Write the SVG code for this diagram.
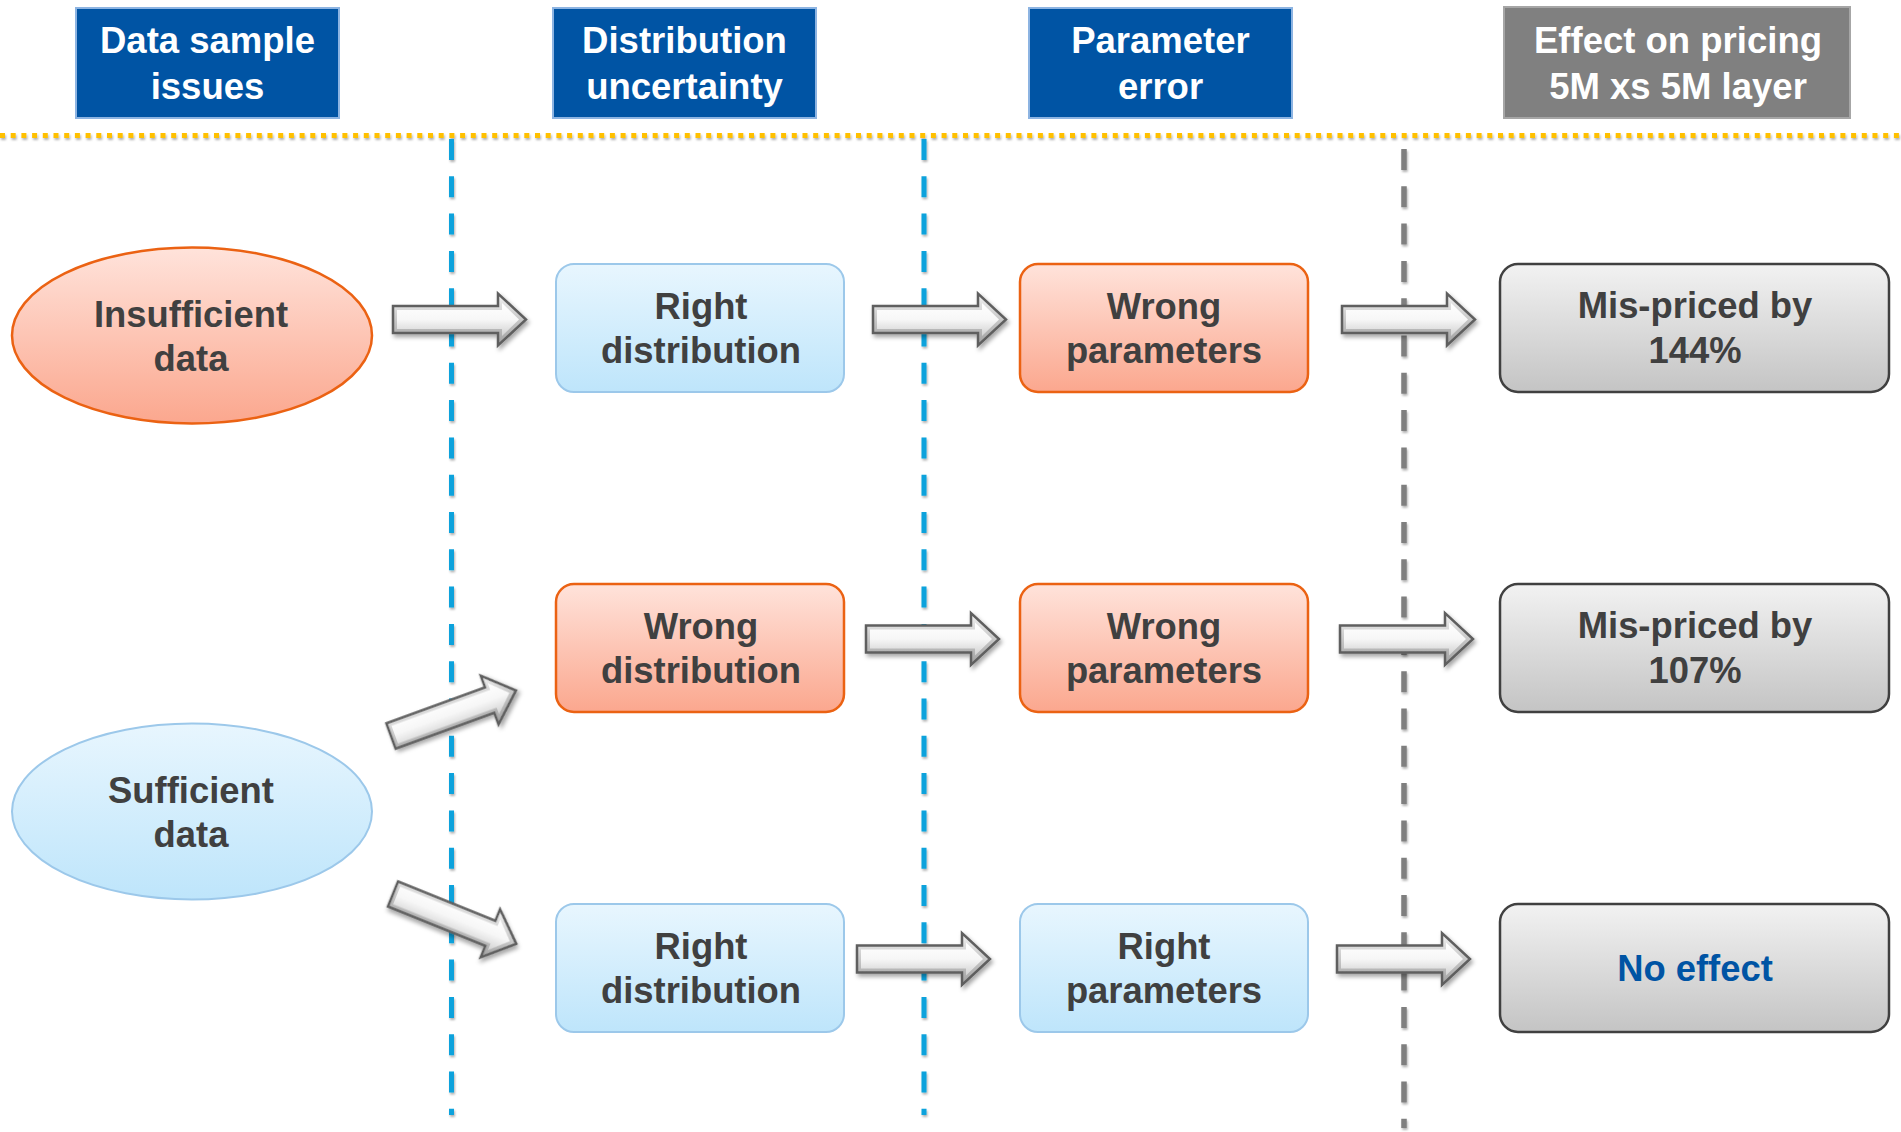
<svg xmlns="http://www.w3.org/2000/svg" width="1901" height="1132" viewBox="0 0 1901 1132">
<defs>
  <linearGradient id="gOrange" x1="0" y1="0" x2="0" y2="1">
    <stop offset="0" stop-color="#FFE3DB"/>
    <stop offset="1" stop-color="#FBA78E"/>
  </linearGradient>
  <linearGradient id="gBlue" x1="0" y1="0" x2="0" y2="1">
    <stop offset="0" stop-color="#E8F6FE"/>
    <stop offset="1" stop-color="#BEE5FB"/>
  </linearGradient>
  <linearGradient id="gGray" x1="0" y1="0" x2="0" y2="1">
    <stop offset="0" stop-color="#F2F2F2"/>
    <stop offset="1" stop-color="#C4C4C4"/>
  </linearGradient>
  <linearGradient id="gArrowEdge" x1="0" y1="0" x2="0" y2="1">
    <stop offset="0" stop-color="#F2F2F2"/>
    <stop offset="1" stop-color="#9E9E9E"/>
  </linearGradient>
  <linearGradient id="gArrow" x1="0" y1="0" x2="0" y2="1">
    <stop offset="0" stop-color="#FFFFFF"/>
    <stop offset="0.5" stop-color="#F7F7F7"/>
    <stop offset="1" stop-color="#D0D0D0"/>
  </linearGradient>
  <filter id="shadow" x="-15%" y="-40%" width="140%" height="190%">
    <feDropShadow dx="2" dy="3" stdDeviation="2.2" flood-color="#000" flood-opacity="0.35"/>
  </filter>
  <filter id="lshadow" filterUnits="userSpaceOnUse" x="0" y="0" width="1901" height="1132">
    <feDropShadow dx="1" dy="2" stdDeviation="1.3" flood-color="#000" flood-opacity="0.3"/>
  </filter>
  <g id="arrow">
    <path class="arrOuter" d="M0,-13.5 L105,-13.5 L105,-26 L133,0 L105,26 L105,13.5 L0,13.5 Z"/>
    <path class="arrInner" d="M4,-9.5 L109,-9.5 L109,-16.5 L126,0 L109,16.5 L109,9.5 L4,9.5 Z"/>
  </g>
</defs>
<style>
  text { font-family: "Liberation Sans", Arial, sans-serif; font-weight: bold; text-anchor: middle; }
  .hdr { fill: #FFFFFF; font-size: 36.5px; }
  .lbl { fill: #404040; font-size: 36.4px; }
  .hblue { fill: #0054A4; stroke: #8DB4E2; stroke-width: 2; }
  .hgray { fill: #808080; stroke: #A6A6A6; stroke-width: 2; }
  .orange { fill: url(#gOrange); stroke: #EB6213; stroke-width: 2.5; }
  .blue { fill: url(#gBlue); stroke: #9CC8EA; stroke-width: 2; }
  .gray { fill: url(#gGray); stroke: #404040; stroke-width: 2.5; }
  .arr { filter: url(#shadow); }
  .arrOuter { fill: url(#gArrowEdge); stroke: #5F5F5F; stroke-width: 2.5; stroke-linejoin: miter; }
  .arrInner { fill: url(#gArrow); stroke: none; }
  .vblue { stroke: #0BA2DC; stroke-width: 5; stroke-dasharray: 21 16.3; fill: none; }
  .vgray { stroke: #7F7F7F; stroke-width: 5.5; stroke-dasharray: 21 16.3; fill: none; }
  .hdot { stroke: #FFC000; stroke-width: 5; stroke-dasharray: 5 5.7; fill: none; }
</style>
<rect width="1901" height="1132" fill="#FFFFFF"/>

<g id="guides" filter="url(#lshadow)">
  <line class="hdot" x1="0" y1="135.5" x2="1901" y2="135.5"/>
  <line class="vblue" x1="451.5" y1="139" x2="451.5" y2="1115"/>
  <line class="vblue" x1="924" y1="139" x2="924" y2="1115"/>
  <line class="vgray" x1="1404" y1="149" x2="1404" y2="1128"/>
</g>

<g id="header-data-sample">
  <rect class="hblue" x="76" y="8" width="263" height="110"/>
  <text class="hdr" x="207.5" y="53">Data sample</text>
  <text class="hdr" x="207.5" y="99">issues</text>
</g>
<g id="header-distribution">
  <rect class="hblue" x="553" y="8" width="263" height="110"/>
  <text class="hdr" x="684.5" y="53">Distribution</text>
  <text class="hdr" x="684.5" y="99">uncertainty</text>
</g>
<g id="header-parameter">
  <rect class="hblue" x="1029" y="8" width="263" height="110"/>
  <text class="hdr" x="1160.5" y="53">Parameter</text>
  <text class="hdr" x="1160.5" y="99">error</text>
</g>
<g id="header-effect">
  <rect class="hgray" x="1504" y="7" width="346" height="111"/>
  <text class="hdr" x="1678" y="53">Effect on pricing</text>
  <text class="hdr" x="1678" y="99">5M xs 5M layer</text>
</g>

<g id="node-insufficient">
  <ellipse class="orange" cx="192" cy="335.5" rx="180" ry="88"/>
  <text class="lbl" x="191" y="327">Insufficient</text>
  <text class="lbl" x="191" y="371">data</text>
</g>
<g id="node-sufficient">
  <ellipse class="blue" cx="192" cy="811.5" rx="180" ry="88"/>
  <text class="lbl" x="191" y="803">Sufficient</text>
  <text class="lbl" x="191" y="847">data</text>
</g>

<g id="node-r1-dist">
  <rect class="blue" x="556" y="264" width="288" height="128" rx="18"/>
  <text class="lbl" x="701" y="319">Right</text>
  <text class="lbl" x="701" y="363">distribution</text>
</g>
<g id="node-r1-param">
  <rect class="orange" x="1020" y="264" width="288" height="128" rx="18"/>
  <text class="lbl" x="1164" y="319">Wrong</text>
  <text class="lbl" x="1164" y="363">parameters</text>
</g>
<g id="node-r1-effect">
  <rect class="gray" x="1500" y="264" width="389" height="128" rx="18"/>
  <text class="lbl" x="1695" y="318">Mis-priced by</text>
  <text class="lbl" x="1695" y="363">144%</text>
</g>

<g id="node-r2-dist">
  <rect class="orange" x="556" y="584" width="288" height="128" rx="18"/>
  <text class="lbl" x="701" y="639">Wrong</text>
  <text class="lbl" x="701" y="683">distribution</text>
</g>
<g id="node-r2-param">
  <rect class="orange" x="1020" y="584" width="288" height="128" rx="18"/>
  <text class="lbl" x="1164" y="639">Wrong</text>
  <text class="lbl" x="1164" y="683">parameters</text>
</g>
<g id="node-r2-effect">
  <rect class="gray" x="1500" y="584" width="389" height="128" rx="18"/>
  <text class="lbl" x="1695" y="638">Mis-priced by</text>
  <text class="lbl" x="1695" y="683">107%</text>
</g>

<g id="node-r3-dist">
  <rect class="blue" x="556" y="904" width="288" height="128" rx="18"/>
  <text class="lbl" x="701" y="959">Right</text>
  <text class="lbl" x="701" y="1003">distribution</text>
</g>
<g id="node-r3-param">
  <rect class="blue" x="1020" y="904" width="288" height="128" rx="18"/>
  <text class="lbl" x="1164" y="959">Right</text>
  <text class="lbl" x="1164" y="1003">parameters</text>
</g>
<g id="node-r3-effect">
  <rect class="gray" x="1500" y="904" width="389" height="128" rx="18"/>
  <text class="lbl" x="1695" y="981" style="fill:#0054A4">No effect</text>
</g>

<g id="connectors">
  <use href="#arrow" class="arr" transform="translate(393,319.5)"/>
  <use href="#arrow" class="arr" transform="translate(873,319.5)"/>
  <use href="#arrow" class="arr" transform="translate(1342,319.5)"/>
  <use href="#arrow" class="arr" transform="translate(391,736) rotate(-20)"/>
  <use href="#arrow" class="arr" transform="translate(866,639)"/>
  <use href="#arrow" class="arr" transform="translate(1340,639)"/>
  <use href="#arrow" class="arr" transform="translate(393,894) rotate(22)"/>
  <use href="#arrow" class="arr" transform="translate(857,959)"/>
  <use href="#arrow" class="arr" transform="translate(1337,959)"/>
</g>
</svg>
